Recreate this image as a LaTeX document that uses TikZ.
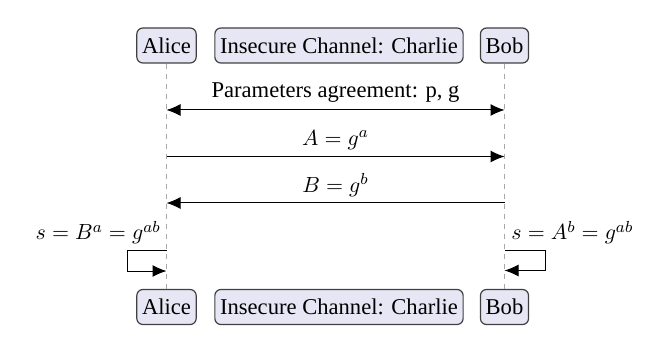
\documentclass[tikz,border=0pt]{standalone}
\usepackage{fontspec}
\setmainfont{Liberation Serif}
\usetikzlibrary{arrows.meta}
\definecolor{boxfill}{HTML}{E6E6F5}
\definecolor{boxdraw}{HTML}{404040}
\definecolor{lifeline}{HTML}{A8A8A8}
\tikzset{
  actor/.style={draw=boxdraw, fill=boxfill, rounded corners=3pt, line width=0.6pt,
    minimum height=17.5pt, inner xsep=2.6pt, inner ysep=0pt, font=\fontsize{11.3}{13.5}\selectfont},
  lifeln/.style={draw=lifeline, line width=0.6pt, dash pattern=on 2.5pt off 2.5pt},
  msg/.style={line width=0.5pt, -{Latex[length=7pt,width=6pt]}},
  msgboth/.style={line width=0.5pt, {Latex[length=7pt,width=6pt]}-{Latex[length=7pt,width=6pt]}},
  lbl/.style={font=\fontsize{11.3}{13.5}\selectfont, inner sep=0pt}
}
\begin{document}
\begin{tikzpicture}[x=0.5pt,y=-0.5pt]
\useasboundingbox (0,0) rectangle (670,353);
\node[actor] (alice) at (166.5,45.5) {Alice};
\node[actor] (charlie) at (339,45.5) {Insecure Channel: Charlie};
\node[actor] (bob) at (504.5,45.5) {Bob};
\node[actor] (alice2) at (166.5,307) {Alice};
\node[actor] (charlie2) at (339,307) {Insecure Channel: Charlie};
\node[actor] (bob2) at (504.5,307) {Bob};
\draw[lifeln] (alice) -- (alice2);
\draw[lifeln] (bob) -- (bob2);
% messages
\coordinate (a1) at (166.5,110); \coordinate (b1) at (504.5,110);
\coordinate (a2) at (166.5,156.5); \coordinate (b2) at (504.5,156.5);
\coordinate (a3) at (166.5,203); \coordinate (b3) at (504.5,203);
\draw[msgboth] (a1) -- (b1) node[lbl, midway, above=3.5pt] {Parameters agreement: p, g};
\draw[msg] (a2) -- (b2) node[lbl, midway, above=3pt] {$A = g^a$};
\draw[msg] (b3) -- (a3) node[lbl, midway, above=3pt] {$B = g^b$};
% self loops
\coordinate (as) at (166.5,250); \coordinate (ae) at (166.5,271);
\coordinate (bs) at (504.5,250); \coordinate (be) at (504.5,270.5);
\draw[msg] (as) -- ++(-39,0) |- (ae);
\draw[msg] (bs) -- ++(41,0) |- (be);
\node[lbl, anchor=base east] (alab) at (161,240) {$s = B^a = g^{ab}$};
\node[lbl, anchor=base west] (blab) at (511,240) {$s = A^b = g^{ab}$};
\end{tikzpicture}
\end{document}
